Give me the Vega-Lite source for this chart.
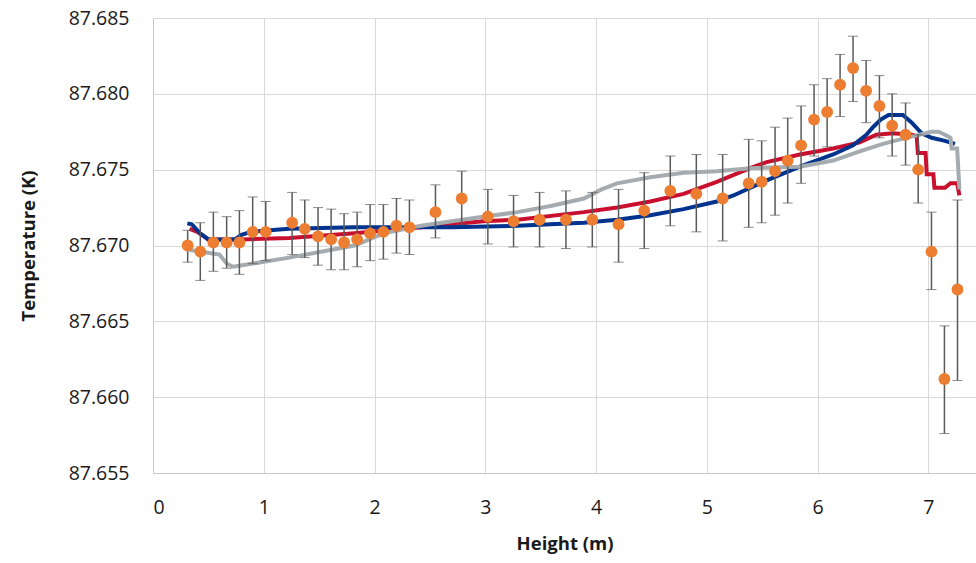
{
  "$schema": "https://vega.github.io/schema/vega-lite/v6.json",
  "autosize": "none",
  "width": 823,
  "height": 455,
  "padding": {"left": 153, "top": 18, "right": 0, "bottom": 90},
  "background": "white",
  "config": {
    "view": {"stroke": null},
    "axis": {"labelFont": "Open Sans", "titleFont": "Open Sans", "labelFontSize": 19.5, "titleFontSize": 18.5, "labelColor": "#1a1a1a", "titleColor": "#1a1a1a", "gridColor": "#d9d9d9", "domainColor": "#c8c8c8", "ticks": false, "titleFontWeight": "bold"}
  },
  "datasets": {
    "lines": [
      {"s": "red", "h": 0.33, "t": 87.6711},
      {"s": "red", "h": 0.40, "t": 87.6709},
      {"s": "red", "h": 0.50, "t": 87.6704},
      {"s": "red", "h": 0.80, "t": 87.6704},
      {"s": "red", "h": 1.23, "t": 87.6705},
      {"s": "red", "h": 1.82, "t": 87.6708},
      {"s": "red", "h": 2.42, "t": 87.6712},
      {"s": "red", "h": 2.98, "t": 87.6716},
      {"s": "red", "h": 3.29, "t": 87.6717},
      {"s": "red", "h": 3.89, "t": 87.6722},
      {"s": "red", "h": 4.19, "t": 87.6725},
      {"s": "red", "h": 4.49, "t": 87.6729},
      {"s": "red", "h": 4.79, "t": 87.6734},
      {"s": "red", "h": 5.09, "t": 87.6742},
      {"s": "red", "h": 5.39, "t": 87.6751},
      {"s": "red", "h": 5.54, "t": 87.6755},
      {"s": "red", "h": 5.84, "t": 87.6760},
      {"s": "red", "h": 6.14, "t": 87.6764},
      {"s": "red", "h": 6.38, "t": 87.6768},
      {"s": "red", "h": 6.53, "t": 87.6773},
      {"s": "red", "h": 6.68, "t": 87.6774},
      {"s": "red", "h": 6.85, "t": 87.6773},
      {"s": "red", "h": 6.895, "t": 87.6772},
      {"s": "red", "h": 6.905, "t": 87.6761},
      {"s": "red", "h": 6.975, "t": 87.6761},
      {"s": "red", "h": 6.985, "t": 87.6747},
      {"s": "red", "h": 7.045, "t": 87.6747},
      {"s": "red", "h": 7.055, "t": 87.6738},
      {"s": "red", "h": 7.15, "t": 87.6738},
      {"s": "red", "h": 7.2, "t": 87.6741},
      {"s": "red", "h": 7.26, "t": 87.6741},
      {"s": "red", "h": 7.28, "t": 87.6733},
      {"s": "blue", "h": 0.31, "t": 87.67146},
      {"s": "blue", "h": 0.35, "t": 87.6714},
      {"s": "blue", "h": 0.425, "t": 87.6708},
      {"s": "blue", "h": 0.50, "t": 87.6704},
      {"s": "blue", "h": 0.74, "t": 87.6704},
      {"s": "blue", "h": 0.80, "t": 87.6707},
      {"s": "blue", "h": 0.88, "t": 87.6709},
      {"s": "blue", "h": 1.23, "t": 87.6711},
      {"s": "blue", "h": 1.82, "t": 87.6712},
      {"s": "blue", "h": 2.70, "t": 87.6712},
      {"s": "blue", "h": 3.29, "t": 87.6713},
      {"s": "blue", "h": 3.89, "t": 87.6715},
      {"s": "blue", "h": 4.19, "t": 87.6717},
      {"s": "blue", "h": 4.49, "t": 87.6720},
      {"s": "blue", "h": 4.79, "t": 87.6724},
      {"s": "blue", "h": 5.09, "t": 87.6729},
      {"s": "blue", "h": 5.24, "t": 87.6733},
      {"s": "blue", "h": 5.54, "t": 87.6743},
      {"s": "blue", "h": 5.84, "t": 87.6752},
      {"s": "blue", "h": 6.14, "t": 87.6760},
      {"s": "blue", "h": 6.32, "t": 87.6766},
      {"s": "blue", "h": 6.44, "t": 87.6773},
      {"s": "blue", "h": 6.50, "t": 87.6778},
      {"s": "blue", "h": 6.57, "t": 87.6783},
      {"s": "blue", "h": 6.64, "t": 87.6786},
      {"s": "blue", "h": 6.77, "t": 87.6786},
      {"s": "blue", "h": 6.85, "t": 87.6781},
      {"s": "blue", "h": 6.94, "t": 87.6774},
      {"s": "blue", "h": 7.03, "t": 87.6771},
      {"s": "blue", "h": 7.15, "t": 87.6769},
      {"s": "blue", "h": 7.24, "t": 87.6767},
      {"s": "gray", "h": 0.33, "t": 87.6697},
      {"s": "gray", "h": 0.425, "t": 87.6696},
      {"s": "gray", "h": 0.60, "t": 87.6694},
      {"s": "gray", "h": 0.666, "t": 87.6688},
      {"s": "gray", "h": 0.725, "t": 87.6686},
      {"s": "gray", "h": 1.23, "t": 87.6692},
      {"s": "gray", "h": 1.82, "t": 87.6700},
      {"s": "gray", "h": 2.08, "t": 87.6708},
      {"s": "gray", "h": 2.42, "t": 87.6713},
      {"s": "gray", "h": 2.98, "t": 87.6719},
      {"s": "gray", "h": 3.29, "t": 87.6722},
      {"s": "gray", "h": 3.59, "t": 87.6726},
      {"s": "gray", "h": 3.89, "t": 87.6731},
      {"s": "gray", "h": 4.05, "t": 87.6737},
      {"s": "gray", "h": 4.19, "t": 87.6741},
      {"s": "gray", "h": 4.49, "t": 87.6745},
      {"s": "gray", "h": 4.79, "t": 87.6748},
      {"s": "gray", "h": 5.09, "t": 87.6749},
      {"s": "gray", "h": 5.39, "t": 87.6751},
      {"s": "gray", "h": 5.84, "t": 87.6752},
      {"s": "gray", "h": 6.14, "t": 87.6756},
      {"s": "gray", "h": 6.38, "t": 87.6762},
      {"s": "gray", "h": 6.59, "t": 87.6767},
      {"s": "gray", "h": 6.80, "t": 87.6771},
      {"s": "gray", "h": 7.03, "t": 87.6775},
      {"s": "gray", "h": 7.09, "t": 87.6775},
      {"s": "gray", "h": 7.15, "t": 87.6773},
      {"s": "gray", "h": 7.20, "t": 87.6771},
      {"s": "gray", "h": 7.21, "t": 87.6764},
      {"s": "gray", "h": 7.26, "t": 87.6764},
      {"s": "gray", "h": 7.28, "t": 87.6737}
    ],
    "points": [
      {"h": 0.313, "t": 87.6700, "lo": 87.6689, "hi": 87.6710},
      {"h": 0.427, "t": 87.6696, "lo": 87.6677, "hi": 87.6715},
      {"h": 0.545, "t": 87.6702, "lo": 87.6683, "hi": 87.6722},
      {"h": 0.665, "t": 87.6702, "lo": 87.6685, "hi": 87.6719},
      {"h": 0.780, "t": 87.6702, "lo": 87.6681, "hi": 87.6723},
      {"h": 0.900, "t": 87.6709, "lo": 87.6688, "hi": 87.6732},
      {"h": 1.018, "t": 87.6709, "lo": 87.6690, "hi": 87.6729},
      {"h": 1.256, "t": 87.6715, "lo": 87.6694, "hi": 87.6735},
      {"h": 1.370, "t": 87.6711, "lo": 87.6692, "hi": 87.6730},
      {"h": 1.490, "t": 87.6706, "lo": 87.6687, "hi": 87.6725},
      {"h": 1.608, "t": 87.6704, "lo": 87.6684, "hi": 87.6724},
      {"h": 1.725, "t": 87.6702, "lo": 87.6684, "hi": 87.6721},
      {"h": 1.843, "t": 87.6704, "lo": 87.6686, "hi": 87.6722},
      {"h": 1.960, "t": 87.6708, "lo": 87.6690, "hi": 87.6727},
      {"h": 2.080, "t": 87.6709, "lo": 87.6691, "hi": 87.6727},
      {"h": 2.198, "t": 87.6713, "lo": 87.6695, "hi": 87.6731},
      {"h": 2.315, "t": 87.6712, "lo": 87.6694, "hi": 87.6730},
      {"h": 2.550, "t": 87.6722, "lo": 87.6705, "hi": 87.6740},
      {"h": 2.787, "t": 87.6731, "lo": 87.6714, "hi": 87.6749},
      {"h": 3.023, "t": 87.6719, "lo": 87.6701, "hi": 87.6737},
      {"h": 3.255, "t": 87.6716, "lo": 87.6699, "hi": 87.6733},
      {"h": 3.490, "t": 87.6717, "lo": 87.6699, "hi": 87.6735},
      {"h": 3.728, "t": 87.6717, "lo": 87.6698, "hi": 87.6736},
      {"h": 3.966, "t": 87.6717, "lo": 87.6699, "hi": 87.6735},
      {"h": 4.203, "t": 87.6714, "lo": 87.6689, "hi": 87.6737},
      {"h": 4.435, "t": 87.6723, "lo": 87.6698, "hi": 87.6748},
      {"h": 4.670, "t": 87.6736, "lo": 87.6713, "hi": 87.6759},
      {"h": 4.905, "t": 87.6734, "lo": 87.6709, "hi": 87.6760},
      {"h": 5.143, "t": 87.6731, "lo": 87.6703, "hi": 87.6760},
      {"h": 5.378, "t": 87.6741, "lo": 87.6712, "hi": 87.6770},
      {"h": 5.495, "t": 87.6742, "lo": 87.6715, "hi": 87.6769},
      {"h": 5.616, "t": 87.6749, "lo": 87.6720, "hi": 87.6778},
      {"h": 5.730, "t": 87.6756, "lo": 87.6728, "hi": 87.6784},
      {"h": 5.851, "t": 87.6766, "lo": 87.6741, "hi": 87.6792},
      {"h": 5.968, "t": 87.6783, "lo": 87.6759, "hi": 87.6806},
      {"h": 6.086, "t": 87.6788, "lo": 87.6765, "hi": 87.6810},
      {"h": 6.203, "t": 87.6806, "lo": 87.6785, "hi": 87.6826},
      {"h": 6.320, "t": 87.6817, "lo": 87.6795, "hi": 87.6838},
      {"h": 6.438, "t": 87.6802, "lo": 87.6781, "hi": 87.6822},
      {"h": 6.558, "t": 87.6792, "lo": 87.6771, "hi": 87.6812},
      {"h": 6.673, "t": 87.6779, "lo": 87.6759, "hi": 87.6800},
      {"h": 6.794, "t": 87.6773, "lo": 87.6753, "hi": 87.6794},
      {"h": 6.908, "t": 87.6750, "lo": 87.6728, "hi": 87.6773},
      {"h": 7.028, "t": 87.6696, "lo": 87.6671, "hi": 87.6722},
      {"h": 7.145, "t": 87.6612, "lo": 87.6576, "hi": 87.6647},
      {"h": 7.263, "t": 87.6671, "lo": 87.6611, "hi": 87.6730}
    ]
  },
  "layer": [
    {
      "data": {"name": "lines"},
      "mark": {"type": "line", "strokeWidth": 4, "interpolate": "linear", "clip": true},
      "encoding": {
        "x": {"field": "h", "type": "quantitative", "title": "Height (m)", "scale": {"domain": [0, 7.43], "nice": false}, "axis": {"values": [0, 1, 2, 3, 4, 5, 6, 7], "format": "d", "labelPadding": 25, "titlePadding": 18}},
        "y": {"field": "t", "type": "quantitative", "title": "Temperature (K)", "scale": {"domain": [87.655, 87.685], "nice": false, "zero": false}, "axis": {"values": [87.655, 87.66, 87.665, 87.67, 87.675, 87.68, 87.685], "format": ".3f", "labelPadding": 24, "titlePadding": 30}},
        "color": {"field": "s", "type": "nominal", "scale": {"domain": ["red", "blue", "gray"], "range": ["#c8102e", "#00338d", "#a5abaf"]}, "legend": null},
        "order": {"field": "h", "type": "quantitative"}
      }
    },
    {
      "data": {"name": "points"},
      "mark": {"type": "errorbar", "ticks": {"size": 10, "color": "#5a5a5a", "strokeWidth": 1.5}, "rule": {"color": "#5a5a5a", "strokeWidth": 1.5}},
      "encoding": {
        "x": {"field": "h", "type": "quantitative", "title": "Height (m)"},
        "y": {"field": "lo", "type": "quantitative", "title": "Temperature (K)"},
        "y2": {"field": "hi"}
      }
    },
    {
      "data": {"name": "points"},
      "mark": {"type": "circle", "size": 140, "color": "#ed7d31", "opacity": 1},
      "encoding": {
        "x": {"field": "h", "type": "quantitative", "title": "Height (m)"},
        "y": {"field": "t", "type": "quantitative", "title": "Temperature (K)"}
      }
    }
  ]
}
